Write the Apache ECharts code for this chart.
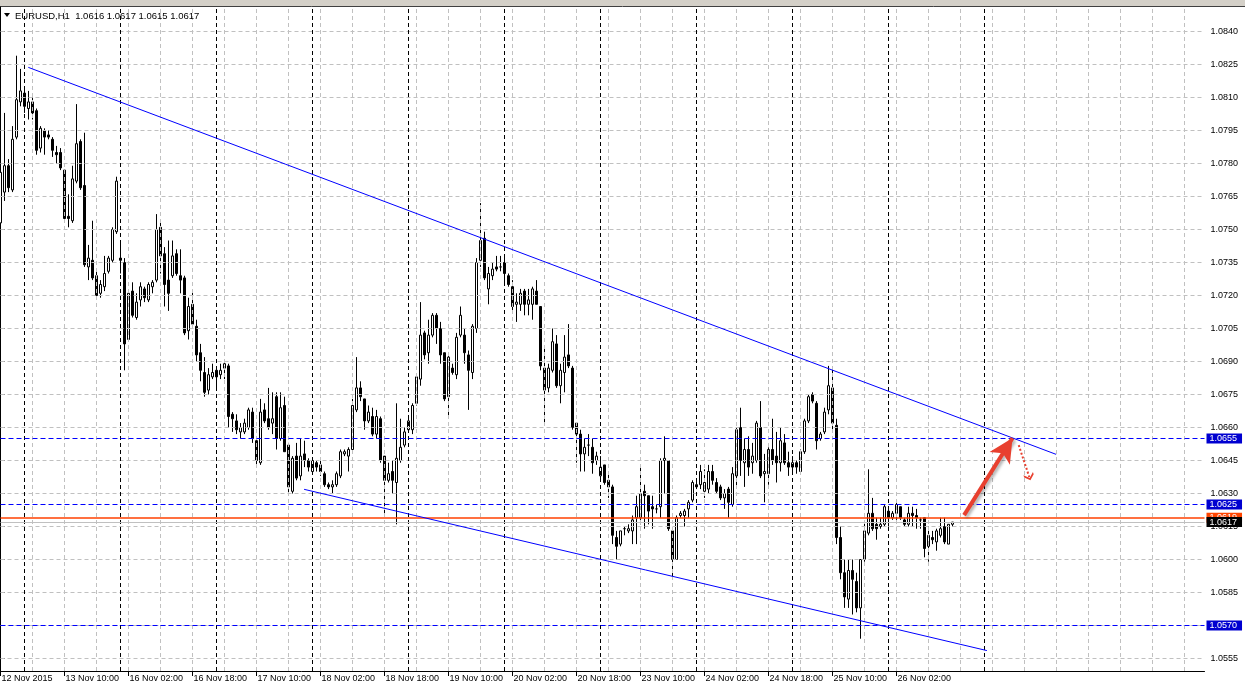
<!DOCTYPE html>
<html>
<head>
<meta charset="utf-8">
<script src="https://cdn.jsdelivr.net/npm/echarts@6/dist/echarts.min.js"></script>
<style>
html,body{margin:0;padding:0;background:#fff;}
#chart{width:1245px;height:682px;}
</style>
</head>
<body>
<div id="chart"></div>
<script>
// ---- Data (EURUSD H1, bar 0 = 12 Nov 2015 18:00) ----
const opens = [
1.0753,1.0767,1.0779,1.0768,1.0792,1.0808,1.0812,1.0805,1.0808,1.0804,
1.0787,1.0795,1.0793,1.0791,1.0785,1.0785,1.0777,1.0756,1.0754,1.0772,
1.0790,1.0770,1.0733,1.0736,1.0729,1.0721,1.0724,1.0731,1.0736,1.0749,
1.0737,1.0735,1.0700,1.0722,1.0710,1.0718,1.0723,1.0718,1.0724,1.0727,
1.0751,1.0739,1.0727,1.0729,1.0739,1.0729,1.0728,1.0704,1.0716,1.0706,
1.0694,1.0685,1.0677,1.0683,1.0686,1.0684,1.0687,1.0688,1.0666,1.0663,
1.0658,1.0658,1.0660,1.0667,1.0654,1.0644,1.0668,1.0664,1.0662,1.0674,
1.0655,1.0670,1.0652,1.0631,1.0647,1.0638,1.0648,1.0645,1.0640,1.0644,
1.0643,1.0639,1.0634,1.0633,1.0634,1.0638,1.0648,1.0647,1.0650,1.0668,
1.0678,1.0673,1.0663,1.0665,1.0657,1.0664,1.0647,1.0636,1.0640,1.0635,
1.0645,1.0652,1.0659,1.0659,1.0671,1.0682,1.0703,1.0694,1.0702,1.0711,
1.0705,1.0694,1.0674,1.0687,1.0684,1.0702,1.0702,1.0693,1.0685,1.0705,
1.0736,1.0746,1.0723,1.0729,1.0733,1.0733,1.0735,1.0729,1.0724,1.0716,
1.0716,1.0722,1.0716,1.0716,1.0722,1.0715,1.0687,1.0678,1.0686,1.0698,
1.0679,1.0685,1.0693,1.0687,1.0662,1.0657,1.0648,1.0652,1.0651,1.0645,
1.0638,1.0643,1.0636,1.0633,1.0610,1.0607,1.0614,1.0613,1.0613,1.0619,
1.0619,1.0631,1.0629,1.0624,1.0623,1.0624,1.0645,1.0645,1.0613,1.0600,
1.0620,1.0620,1.0623,1.0627,1.0634,1.0634,1.0631,1.0632,1.0640,1.0635,
1.0633,1.0628,1.0632,1.0625,1.0638,1.0660,1.0644,1.0650,1.0644,1.0645,
1.0660,1.0639,1.0639,1.0650,1.0647,1.0644,1.0653,1.0644,1.0642,1.0644,
1.0640,1.0649,1.0663,1.0675,1.0671,1.0655,1.0658,1.0668,1.0678,1.0661,
1.0610,1.0594,1.0582,1.0595,1.0590,1.0578,1.0600,1.0612,1.0621,1.0616,
1.0615,1.0616,1.0622,1.0619,1.0621,1.0624,1.0618,1.0616,1.0621,1.0620,
1.0618,1.0619,1.0606,1.0610,1.0608,1.0611,1.0615,1.0607,1.0616
];
const closes = [
1.0776,1.0779,1.0769,1.0791,1.0809,1.0813,1.0806,1.0808,1.0803,1.0786,
1.0796,1.0792,1.0792,1.0786,1.0784,1.0778,1.0755,1.0755,1.0773,1.0789,
1.0769,1.0734,1.0737,1.0728,1.0720,1.0725,1.0730,1.0737,1.0750,1.0772,
1.0736,1.0698,1.0721,1.0711,1.0717,1.0724,1.0719,1.0725,1.0726,1.0750,
1.0738,1.0725,1.0721,1.0738,1.0730,1.0727,1.0703,1.0715,1.0707,1.0693,
1.0686,1.0676,1.0684,1.0685,1.0683,1.0686,1.0689,1.0665,1.0664,1.0659,
1.0660,1.0662,1.0668,1.0655,1.0645,1.0667,1.0663,1.0660,1.0664,1.0655,
1.0669,1.0649,1.0633,1.0646,1.0637,1.0647,1.0645,1.0642,1.0645,1.0642,
1.0640,1.0634,1.0633,1.0634,1.0639,1.0649,1.0649,1.0650,1.0670,1.0678,
1.0674,1.0663,1.0667,1.0657,1.0665,1.0645,1.0636,1.0639,1.0636,1.0646,
1.0651,1.0658,1.0663,1.0670,1.0683,1.0702,1.0693,1.0702,1.0711,1.0705,
1.0693,1.0673,1.0692,1.0685,1.0701,1.0711,1.0694,1.0686,1.0706,1.0735,
1.0745,1.0728,1.0730,1.0732,1.0732,1.0733,1.0730,1.0725,1.0715,1.0717,
1.0721,1.0716,1.0718,1.0723,1.0716,1.0688,1.0677,1.0687,1.0699,1.0679,
1.0686,1.0692,1.0688,1.0660,1.0657,1.0648,1.0651,1.0652,1.0644,1.0647,
1.0642,1.0635,1.0633,1.0611,1.0606,1.0613,1.0614,1.0614,1.0618,1.0624,
1.0630,1.0629,1.0622,1.0623,1.0623,1.0645,1.0646,1.0614,1.0600,1.0619,
1.0621,1.0622,1.0626,1.0635,1.0633,1.0640,1.0635,1.0640,1.0636,1.0631,
1.0628,1.0630,1.0626,1.0639,1.0659,1.0645,1.0650,1.0642,1.0647,1.0662,
1.0638,1.0640,1.0650,1.0645,1.0644,1.0654,1.0644,1.0642,1.0644,1.0642,
1.0649,1.0663,1.0674,1.0672,1.0654,1.0657,1.0667,1.0679,1.0662,1.0610,
1.0594,1.0583,1.0595,1.0591,1.0578,1.0600,1.0613,1.0621,1.0614,1.0614,
1.0616,1.0624,1.0619,1.0621,1.0625,1.0619,1.0616,1.0621,1.0620,1.0619,
1.0618,1.0605,1.0611,1.0609,1.0613,1.0614,1.0608,1.0616,1.0617
];
const lows = [
1.0746,1.0763,1.0767,1.0767,1.0791,1.0806,1.0803,1.0800,1.0800,1.0784,
1.0785,1.0784,1.0791,1.0783,1.0780,1.0777,1.0753,1.0751,1.0753,1.0771,
1.0768,1.0733,1.0727,1.0727,1.0719,1.0719,1.0722,1.0730,1.0735,1.0748,
1.0730,1.0686,1.0699,1.0710,1.0709,1.0715,1.0717,1.0717,1.0721,1.0726,
1.0730,1.0715,1.0713,1.0728,1.0729,1.0721,1.0702,1.0700,1.0706,1.0690,
1.0681,1.0674,1.0675,1.0682,1.0678,1.0682,1.0682,1.0660,1.0658,1.0657,
1.0655,1.0657,1.0659,1.0653,1.0642,1.0643,1.0662,1.0659,1.0657,1.0650,
1.0654,1.0649,1.0630,1.0630,1.0636,1.0636,1.0642,1.0640,1.0639,1.0640,
1.0638,1.0633,1.0632,1.0630,1.0633,1.0637,1.0647,1.0640,1.0649,1.0667,
1.0672,1.0659,1.0662,1.0656,1.0655,1.0644,1.0621,1.0635,1.0630,1.0616,
1.0644,1.0651,1.0658,1.0657,1.0670,1.0679,1.0691,1.0689,1.0701,1.0698,
1.0689,1.0672,1.0665,1.0684,1.0682,1.0701,1.0689,1.0668,1.0682,1.0703,
1.0733,1.0727,1.0716,1.0727,1.0731,1.0731,1.0725,1.0724,1.0713,1.0708,
1.0713,1.0711,1.0711,1.0709,1.0716,1.0686,1.0662,1.0676,1.0685,1.0678,
1.0671,1.0676,1.0687,1.0659,1.0644,1.0640,1.0640,1.0647,1.0639,1.0643,
1.0637,1.0634,1.0628,1.0607,1.0600,1.0606,1.0611,1.0612,1.0607,1.0607,
1.0616,1.0614,1.0616,1.0614,1.0621,1.0619,1.0630,1.0613,1.0592,1.0600,
1.0619,1.0615,1.0619,1.0626,1.0632,1.0632,1.0628,1.0630,1.0634,1.0630,
1.0627,1.0623,1.0619,1.0624,1.0633,1.0638,1.0633,1.0638,1.0639,1.0644,
1.0637,1.0626,1.0634,1.0643,1.0635,1.0640,1.0643,1.0638,1.0639,1.0639,
1.0639,1.0648,1.0662,1.0671,1.0650,1.0654,1.0657,1.0666,1.0658,1.0607,
1.0591,1.0578,1.0578,1.0575,1.0576,1.0564,1.0599,1.0611,1.0613,1.0609,
1.0614,1.0615,1.0615,1.0618,1.0618,1.0618,1.0615,1.0615,1.0615,1.0614,
1.0614,1.0601,1.0599,1.0607,1.0604,1.0610,1.0607,1.0607,1.0615
];
const highs = [
1.0778,1.0803,1.0782,1.0797,1.0829,1.0823,1.0815,1.0813,1.0810,1.0805,
1.0797,1.0796,1.0795,1.0792,1.0788,1.0787,1.0777,1.0766,1.0779,1.0807,
1.0791,1.0794,1.0743,1.0754,1.0731,1.0727,1.0738,1.0738,1.0751,1.0774,
1.0745,1.0737,1.0722,1.0726,1.0721,1.0726,1.0724,1.0726,1.0727,1.0757,
1.0754,1.0742,1.0745,1.0745,1.0741,1.0741,1.0729,1.0719,1.0722,1.0709,
1.0698,1.0692,1.0687,1.0689,1.0687,1.0689,1.0690,1.0689,1.0667,1.0666,
1.0662,1.0664,1.0669,1.0669,1.0655,1.0673,1.0671,1.0678,1.0676,1.0676,
1.0676,1.0674,1.0653,1.0647,1.0653,1.0655,1.0654,1.0646,1.0646,1.0645,
1.0645,1.0640,1.0635,1.0636,1.0640,1.0650,1.0650,1.0651,1.0673,1.0692,
1.0681,1.0673,1.0670,1.0669,1.0668,1.0665,1.0647,1.0644,1.0645,1.0671,
1.0664,1.0660,1.0665,1.0671,1.0684,1.0717,1.0704,1.0709,1.0712,1.0712,
1.0708,1.0694,1.0694,1.0689,1.0703,1.0715,1.0705,1.0695,1.0707,1.0737,
1.0762,1.0749,1.0733,1.0735,1.0738,1.0738,1.0738,1.0730,1.0727,1.0721,
1.0723,1.0723,1.0723,1.0724,1.0727,1.0715,1.0697,1.0689,1.0705,1.0702,
1.0689,1.0702,1.0707,1.0688,1.0662,1.0659,1.0655,1.0657,1.0655,1.0649,
1.0647,1.0643,1.0639,1.0634,1.0613,1.0613,1.0615,1.0616,1.0620,1.0629,
1.0643,1.0634,1.0629,1.0629,1.0625,1.0646,1.0656,1.0645,1.0614,1.0620,
1.0622,1.0623,1.0627,1.0636,1.0636,1.0643,1.0641,1.0643,1.0643,1.0637,
1.0634,1.0632,1.0633,1.0642,1.0660,1.0669,1.0655,1.0656,1.0653,1.0663,
1.0672,1.0648,1.0651,1.0664,1.0658,1.0660,1.0657,1.0649,1.0647,1.0645,
1.0650,1.0664,1.0675,1.0676,1.0672,1.0658,1.0669,1.0688,1.0687,1.0664,
1.0615,1.0600,1.0600,1.0600,1.0594,1.0600,1.0617,1.0641,1.0628,1.0619,
1.0619,1.0625,1.0624,1.0622,1.0626,1.0624,1.0619,1.0624,1.0624,1.0623,
1.0619,1.0619,1.0615,1.0613,1.0614,1.0619,1.0619,1.0616,1.0617
];

// axis ticks
const priceTicks = [1.0555,1.0570,1.0585,1.0600,1.0615,1.0630,1.0645,1.0660,1.0675,1.0690,
                    1.0705,1.0720,1.0735,1.0750,1.0765,1.0780,1.0795,1.0810,1.0825,1.0840];
const timeTickBars = [0,16,32,48,64,80,96,112,128,144,160,176,192,208,224];
const timeTickLabels = ['12 Nov 2015','13 Nov 10:00','16 Nov 02:00','16 Nov 18:00','17 Nov 10:00',
  '18 Nov 02:00','18 Nov 18:00','19 Nov 10:00','20 Nov 02:00','20 Nov 18:00','23 Nov 10:00',
  '24 Nov 02:00','24 Nov 18:00','25 Nov 10:00','26 Nov 02:00'];
const gridBars = [8,16,24,32,40,48,56,64,72,80,88,96,104,112,120,128,136,144,152,160,168,176,
                  184,192,200,208,216,224,232,240,248,256,264,272,280,288,296];
const daySeparatorBars = [6,30,54,78,102,126,150,174,198,222,246];

// horizontal levels
const blueLevels = [1.0655, 1.0625, 1.0570];
const orangeLevel = 1.0619;
const bidLevel = 1.0617;

// trend lines [bar, price]
const upperTrend = [[6.95, 1.08237], [263.9, 1.06478]];
const lowerTrend = [[75.9, 1.06319], [246.6, 1.05586]];
// annotation arrows [bar, price]
const upArrow = [[240.9, 1.06202], [253.0, 1.06552]];
const downArrow = [[254.55, 1.06520], [257.2, 1.06375]];

const header = 'EURUSD,H1  1.0616 1.0617 1.0615 1.0617';

const candles = opens.map((o, i) => [i, o, closes[i], lows[i], highs[i]]);

const FONT = 'Liberation Sans';
const gridDash = {color: '#c0c0c0', width: 1, type: [4, 3]};

const chart = echarts.init(document.getElementById('chart'), null, {renderer: 'canvas'});
chart.setOption({
  animation: false,
  backgroundColor: '#ffffff',
  grid: {left: 0.5, right: 40.5, top: 7, bottom: 11, containLabel: false, outerBoundsMode: 'none'},
  title: {
    text: header, left: 15, top: 11, padding: 0,
    textStyle: {fontFamily: FONT, fontSize: 9.5, fontWeight: 'normal', color: '#000'}
  },
  graphic: [
    {type: 'rect', left: 0, top: 0, shape: {width: 1245, height: 6}, style: {fill: '#d4d0c8'}, silent: true},
    {type: 'line', shape: {x1: 0, y1: 6.5, x2: 1245, y2: 6.5}, style: {stroke: '#404040', lineWidth: 1}, silent: true},
    {type: 'polygon', shape: {points: [[4, 13], [10, 13], [7, 17]]}, style: {fill: '#000'}, silent: true}
  ],
  xAxis: {
    type: 'value', min: 0, max: 301,
    axisLine: {show: true, onZero: false, lineStyle: {color: '#000', width: 1}},
    axisTick: {show: true, customValues: timeTickBars, length: 5, inside: false, lineStyle: {color: '#000'}},
    axisLabel: {
      customValues: timeTickBars,
      formatter: v => timeTickLabels[timeTickBars.indexOf(Math.round(v))] || '',
      align: 'left', verticalAlign: 'top', margin: 3, padding: [0, 0, 0, 1],
      fontFamily: FONT, fontSize: 9, color: '#000'
    },
    splitLine: {show: false}
  },
  yAxis: {
    type: 'value', position: 'right', min: 1.054932, max: 1.085114, scale: true,
    axisLine: {show: true, lineStyle: {color: '#000', width: 1}},
    axisTick: {show: true, customValues: priceTicks, length: 4, inside: false, lineStyle: {color: '#000'}},
    axisLabel: {
      customValues: priceTicks, formatter: v => v.toFixed(4), margin: 6,
      fontFamily: FONT, fontSize: 9, color: '#000'
    },
    splitLine: {show: false}
  },
  series: [
    {
      name: 'grid', type: 'line', data: [], z: 1, silent: true,
      markLine: {
        silent: true, symbol: 'none', animation: false, precision: 6, label: {show: false},
        data: [
          ...priceTicks.map(p => ({yAxis: p, lineStyle: gridDash})),
          ...gridBars.map(b => ({xAxis: b, lineStyle: gridDash})),
          ...daySeparatorBars.map(b => ({xAxis: b, lineStyle: {color: '#000', width: 1, type: [4, 3]}}))
        ]
      }
    },
    {
      name: 'EURUSD', type: 'candlestick', z: 2,
      encode: {x: 0, y: [1, 2, 3, 4]},
      data: candles, barWidth: 3,
      itemStyle: {color: '#ffffff', color0: '#000000', borderColor: '#000000', borderColor0: '#000000', borderWidth: 1}
    },
    {
      name: 'levels', type: 'line', data: [], z: 3, silent: true,
      markLine: {
        silent: true, symbol: 'none', animation: false, precision: 6,
        data: [
          ...blueLevels.map(p => ({
            yAxis: p, lineStyle: {color: '#0000ff', width: 1, type: [5, 3]},
            label: {show: true, position: 'end', distance: 2, formatter: p.toFixed(4),
              color: '#fff', backgroundColor: '#0000d0', padding: [0, 5, 0, 3], lineHeight: 10,
              fontFamily: FONT, fontSize: 9}
          })),
          {
            yAxis: orangeLevel, lineStyle: {color: '#ff4000', width: 1.6, type: 'solid', opacity: 1},
            label: {show: true, position: 'end', distance: 2, formatter: orangeLevel.toFixed(4),
              color: '#fff', backgroundColor: '#ff4500', padding: [0, 5, 0, 3], lineHeight: 10,
              fontFamily: FONT, fontSize: 9}
          }
        ]
      }
    },
    {
      name: 'bid', type: 'line', data: [], z: 4, silent: true,
      markLine: {
        silent: true, symbol: 'none', animation: false, precision: 6,
        data: [{
          yAxis: bidLevel, lineStyle: {color: '#c0c0c0', width: 1, type: 'solid'},
          label: {show: true, position: 'end', distance: 2, formatter: bidLevel.toFixed(4),
            color: '#fff', backgroundColor: '#000', padding: [0, 5, 0, 3], lineHeight: 10,
            fontFamily: FONT, fontSize: 9}
        }]
      }
    },
    {
      name: 'trend', type: 'line', data: [], z: 5, silent: true,
      markLine: {
        silent: true, symbol: 'none', animation: false, precision: 6, label: {show: false},
        lineStyle: {color: '#0000ff', width: 1, type: 'solid'},
        data: [
          [{coord: upperTrend[0]}, {coord: upperTrend[1]}],
          [{coord: lowerTrend[0]}, {coord: lowerTrend[1]}]
        ]
      }
    },
    {
      name: 'arrows', type: 'line', data: [], z: 6, silent: true,
      markLine: {
        silent: true, animation: false, precision: 6, label: {show: false},
        data: [
          [{coord: upArrow[0], symbol: 'none',
            lineStyle: {color: '#e8402f', width: 4, type: 'solid', shadowColor: 'rgba(0,0,0,0.3)', shadowBlur: 3, shadowOffsetX: 2, shadowOffsetY: 2}},
           {coord: upArrow[1], symbol: 'arrow', symbolSize: [18, 24]}],
          [{coord: downArrow[0], symbol: 'none',
            lineStyle: {color: '#e8402f', width: 2, type: [2, 2]}},
           {coord: downArrow[1], symbol: 'path://M0,9 L5,3 L10,9 L10,6 L5,0 L0,6 Z', symbolSize: [10, 7]}]
        ]
      }
    }
  ]
});
</script>
</body>
</html>
